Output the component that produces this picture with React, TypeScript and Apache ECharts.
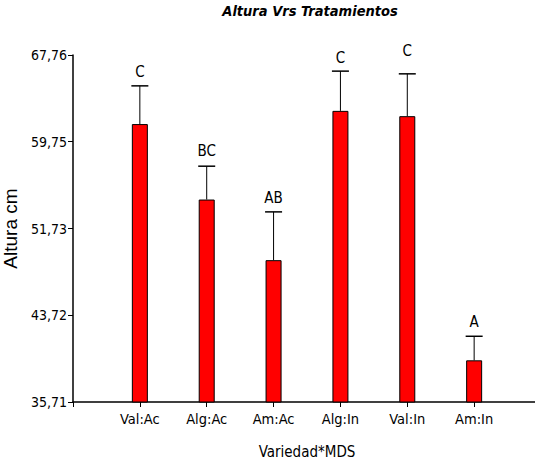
import React, { useEffect, useRef } from "react";
import * as echarts from "echarts";

const categories = ["Val:Ac", "Alg:Ac", "Am:Ac", "Alg:In", "Val:In", "Am:In"];
const means = [61.38, 54.41, 48.81, 62.6, 62.11, 39.56];
const upper = [64.91, 57.49, 53.27, 66.27, 66.02, 41.78];
const letters = ["C", "BC", "AB", "C", "C", "A"];
const yTicks = [35.71, 43.72, 51.73, 59.75, 67.76];
const letterGap = [14, 15, 14, 13, 23, 14];

const FONT = '"DejaVu Sans Condensed", "Liberation Sans", sans-serif';

export default function App() {
  const ref = useRef<HTMLDivElement>(null);
  useEffect(() => {
    if (!ref.current) return;
    const chart = echarts.init(ref.current, null, { renderer: "svg" });
    const cats = ["", ...categories, ""];
    const barData = ["-", ...means, "-"];
    const errData = categories.map((_, i) => [i + 1, means[i], upper[i], letters[i], letterGap[i]]);
    chart.setOption({
      animation: false,
      backgroundColor: "#ffffff",
      title: {
        text: "Altura Vrs Tratamientos",
        left: 305,
        textAlign: "center",
        top: -2,
        textStyle: { fontFamily: FONT, fontSize: 14.5, fontWeight: "bold", fontStyle: "italic", color: "#000" },
      },
      grid: { left: 73, right: -6, top: 55, bottom: 61, containLabel: false, outerBoundsMode: "none" },
      xAxis: {
        type: "category",
        data: cats,
        boundaryGap: false,
        name: "Variedad*MDS",
        nameLocation: "middle",
        nameGap: 42,
        nameTextStyle: { fontFamily: FONT, fontSize: 15, color: "#000" },
        axisLine: { lineStyle: { color: "#000", width: 1.5 } },
        axisTick: { show: true, length: 5, lineStyle: { color: "#000", width: 1 } },
        axisLabel: { interval: 0, fontFamily: FONT, fontSize: 14.5, color: "#000", margin: 9 },
        splitLine: { show: false },
      },
      yAxis: {
        type: "value",
        min: 35.71,
        max: 67.76,
        name: "Altura cm",
        nameLocation: "middle",
        nameGap: 47,
        nameRotate: 90,
        nameTextStyle: { fontFamily: '"Liberation Sans", sans-serif', fontSize: 19, color: "#000" },
        axisLine: { show: true, lineStyle: { color: "#000", width: 1.5 } },
        axisTick: { show: true, length: 5, customValues: yTicks, lineStyle: { color: "#000", width: 1 } },
        axisLabel: {
          customValues: yTicks,
          fontFamily: FONT,
          fontSize: 14,
          color: "#000",
          margin: 6,
          formatter: (v: number) => v.toFixed(2).replace(".", ","),
        },
        splitLine: { show: false },
      },
      series: [
        {
          type: "bar",
          data: barData,
          barWidth: 16,
          itemStyle: { color: "#ff0000", borderColor: "#000", borderWidth: 1 },
          z: 2,
        },
        {
          type: "custom",
          data: errData,
          encode: { x: 0, y: [1, 2] },
          z: 3,
          renderItem: (params: any, api: any) => {
            const x = api.value(0);
            const top = api.coord([x, api.value(1)]);
            const hi = api.coord([x, api.value(2)]);
            const letter = letters[params.dataIndex];
            const gap = api.value(4);
            return {
              type: "group",
              children: [
                { type: "line", shape: { x1: top[0], y1: top[1], x2: hi[0], y2: hi[1] }, style: { stroke: "#000", lineWidth: 1 } },
                { type: "line", shape: { x1: hi[0] - 8.5, y1: hi[1], x2: hi[0] + 8.5, y2: hi[1] }, style: { stroke: "#000", lineWidth: 1.5 } },
                {
                  type: "text",
                  x: hi[0],
                  y: hi[1] - gap,
                  style: { text: letter, fontFamily: FONT, fontSize: 15, fill: "#000", align: "center", verticalAlign: "middle" },
                },
              ],
            };
          },
        },
      ],
    });
    return () => chart.dispose();
  }, []);
  return <div ref={ref} style={{ position: "fixed", left: 0, top: 0, width: 535, height: 463 }} />;
}
